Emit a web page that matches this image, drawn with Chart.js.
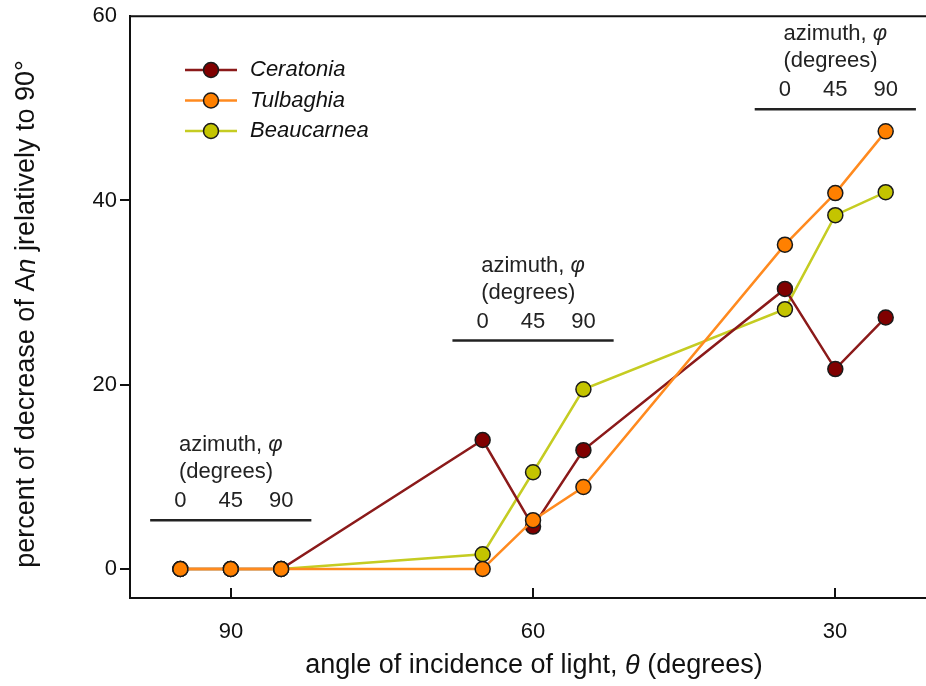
<!DOCTYPE html>
<html>
<head>
<meta charset="utf-8">
<script src="https://cdn.jsdelivr.net/npm/chart.js@4.4.0/dist/chart.umd.min.js"></script>
<style>
  html, body { margin: 0; padding: 0; background: #fff; }
  canvas { display: block; }
</style>
</head>
<body>
<canvas id="chart" width="926" height="686"></canvas>
<script>
// angle of incidence (degrees) for every measured point
const angles = [95, 90, 85, 65, 60, 55, 35, 30, 25];
const ceratonia = [0, 0, 0, 14.0, 4.6, 12.9, 30.4, 21.7, 27.3];
const tulbaghia = [0, 0, 0, 0, 5.3, 8.9, 35.2, 40.8, 47.5];
const beaucarnea = [0, 0, 0, 1.6, 10.5, 19.5, 28.2, 38.4, 40.9];
const seriesNames = ['Ceratonia', 'Tulbaghia', 'Beaucarnea'];

const xTicks = [90, 60, 30];
const yTicks = [0, 20, 40, 60];

// azimuth groups: centre angle and the level of the bar under the labels
const groupCentres = [90, 60, 30];
const groupBarLevels = [5.3, 24.8, 49.9];
const azimuthLabels = ['0', '45', '90'];
const azimuthOffsets = [5, 0, -5];

const FONT = '"Liberation Sans", Arial, Helvetica, sans-serif';
const INK = '#111';

const styles = [
  { line: '#8b1a1a', fill: '#800000' },
  { line: '#ff8a1f', fill: '#ff8000' },
  { line: '#c5cc22', fill: '#c4c400' }
];

function richWidth(ctx, parts, size) {
  let w = 0;
  parts.forEach(p => {
    ctx.font = (p.italic ? 'italic ' : '') + size + 'px ' + FONT;
    w += ctx.measureText(p.t).width;
  });
  return w;
}

// draws mixed upright/italic text starting at x (left aligned)
function drawRich(ctx, parts, x, y, size) {
  ctx.textAlign = 'left';
  ctx.textBaseline = 'middle';
  parts.forEach(p => {
    ctx.font = (p.italic ? 'italic ' : '') + size + 'px ' + FONT;
    ctx.fillText(p.t, x, y);
    x += ctx.measureText(p.t).width;
  });
}

const decor = {
  id: 'decor',
  afterDraw(chart) {
    const { ctx, chartArea: a, scales: { x, y } } = chart;
    ctx.save();
    ctx.strokeStyle = INK;
    ctx.fillStyle = INK;
    ctx.lineWidth = 2;

    // top frame line
    ctx.beginPath();
    ctx.moveTo(a.left - 1, a.top);
    ctx.lineTo(a.right, a.top);
    ctx.stroke();

    // inward x ticks and their labels
    ctx.font = '22px ' + FONT;
    ctx.textAlign = 'center';
    ctx.textBaseline = 'middle';
    xTicks.forEach(v => {
      const px = Math.round(x.getPixelForValue(v));
      ctx.beginPath();
      ctx.moveTo(px, a.bottom);
      ctx.lineTo(px, a.bottom - 10);
      ctx.stroke();
      ctx.fillText(String(v), px, a.bottom + 34);
    });

    // axis titles
    const xTitle = [{ t: 'angle of incidence of light, ' }, { t: 'θ', italic: true }, { t: ' (degrees)' }];
    const xw = richWidth(ctx, xTitle, 27);
    drawRich(ctx, xTitle, 534 - xw / 2, 666, 27);

    const yTitle = [{ t: 'percent of decrease of A' }, { t: 'n', italic: true }, { t: ' jrelatively to 90°' }];
    const yw = richWidth(ctx, yTitle, 27);
    ctx.save();
    ctx.translate(27, 314);
    ctx.rotate(-Math.PI / 2);
    drawRich(ctx, yTitle, -yw / 2, 0, 27);
    ctx.restore();

    // legend
    seriesNames.forEach((name, i) => {
      const ly = 70 + i * 30.5;
      ctx.strokeStyle = styles[i].line;
      ctx.lineWidth = 2.5;
      ctx.beginPath();
      ctx.moveTo(185, ly);
      ctx.lineTo(237, ly);
      ctx.stroke();
      ctx.beginPath();
      ctx.arc(211, ly, 7.5, 0, Math.PI * 2);
      ctx.fillStyle = styles[i].fill;
      ctx.fill();
      ctx.strokeStyle = '#1a1a1a';
      ctx.lineWidth = 1.5;
      ctx.stroke();
      ctx.fillStyle = INK;
      drawRich(ctx, [{ t: name, italic: true }], 250, ly, 22);
    });

    // azimuth annotations
    const head = [{ t: 'azimuth, ' }, { t: 'φ', italic: true }];
    groupCentres.forEach((c, i) => {
      const cx = x.getPixelForValue(c);
      const by = y.getPixelForValue(groupBarLevels[i]);
      ctx.strokeStyle = '#222';
      ctx.lineWidth = 2.5;
      ctx.beginPath();
      ctx.moveTo(x.getPixelForValue(c + 8), by);
      ctx.lineTo(x.getPixelForValue(c - 8), by);
      ctx.stroke();
      ctx.fillStyle = '#222';
      const hw = richWidth(ctx, head, 22);
      const left = cx - hw / 2;
      drawRich(ctx, head, left, by - 75, 22);
      drawRich(ctx, [{ t: '(degrees)' }], left, by - 48, 22);
      ctx.font = '22px ' + FONT;
      ctx.textAlign = 'center';
      azimuthLabels.forEach((lab, k) => {
        ctx.fillText(lab, x.getPixelForValue(c + azimuthOffsets[k]), by - 19);
      });
    });
    ctx.restore();
  }
};

function makeSet(label, values, i, order) {
  return {
    label,
    data: angles.map((a, k) => ({ x: a, y: values[k] })),
    borderColor: styles[i].line,
    backgroundColor: styles[i].fill,
    borderWidth: 2.5,
    pointRadius: 7.5,
    pointHoverRadius: 7.5,
    pointBackgroundColor: styles[i].fill,
    pointBorderColor: '#1a1a1a',
    pointBorderWidth: 1.5,
    tension: 0,
    order
  };
}

new Chart(document.getElementById('chart'), {
  type: 'line',
  data: {
    datasets: [
      makeSet(seriesNames[0], ceratonia, 0, 2),
      makeSet(seriesNames[1], tulbaghia, 1, 1),
      makeSet(seriesNames[2], beaucarnea, 2, 3)
    ]
  },
  options: {
    responsive: false,
    animation: false,
    devicePixelRatio: 1,
    layout: { autoPadding: false, padding: { top: 16, right: 0, left: 0, bottom: 0 } },
    plugins: { legend: { display: false }, tooltip: { enabled: false } },
    scales: {
      x: {
        type: 'linear',
        min: 21,
        max: 100,
        reverse: true,
        afterBuildTicks: s => { s.ticks = xTicks.map(v => ({ value: v })); },
        afterFit: s => { s.height = 88; },
        ticks: { display: false },
        grid: { display: false },
        border: { display: true, color: INK, width: 2 }
      },
      y: {
        type: 'linear',
        min: -3.15,
        max: 60,
        afterBuildTicks: s => { s.ticks = yTicks.map(v => ({ value: v })); },
        afterFit: s => { s.width = 130; },
        ticks: { color: INK, font: { size: 22, family: FONT }, padding: 3 },
        grid: {
          drawOnChartArea: false,
          drawTicks: true,
          tickLength: 10,
          lineWidth: 2,
          color: c => (c.tick && c.tick.value === 60 ? 'rgba(0,0,0,0)' : INK)
        },
        border: { display: true, color: INK, width: 2 }
      }
    }
  },
  plugins: [decor]
});
</script>
</body>
</html>
